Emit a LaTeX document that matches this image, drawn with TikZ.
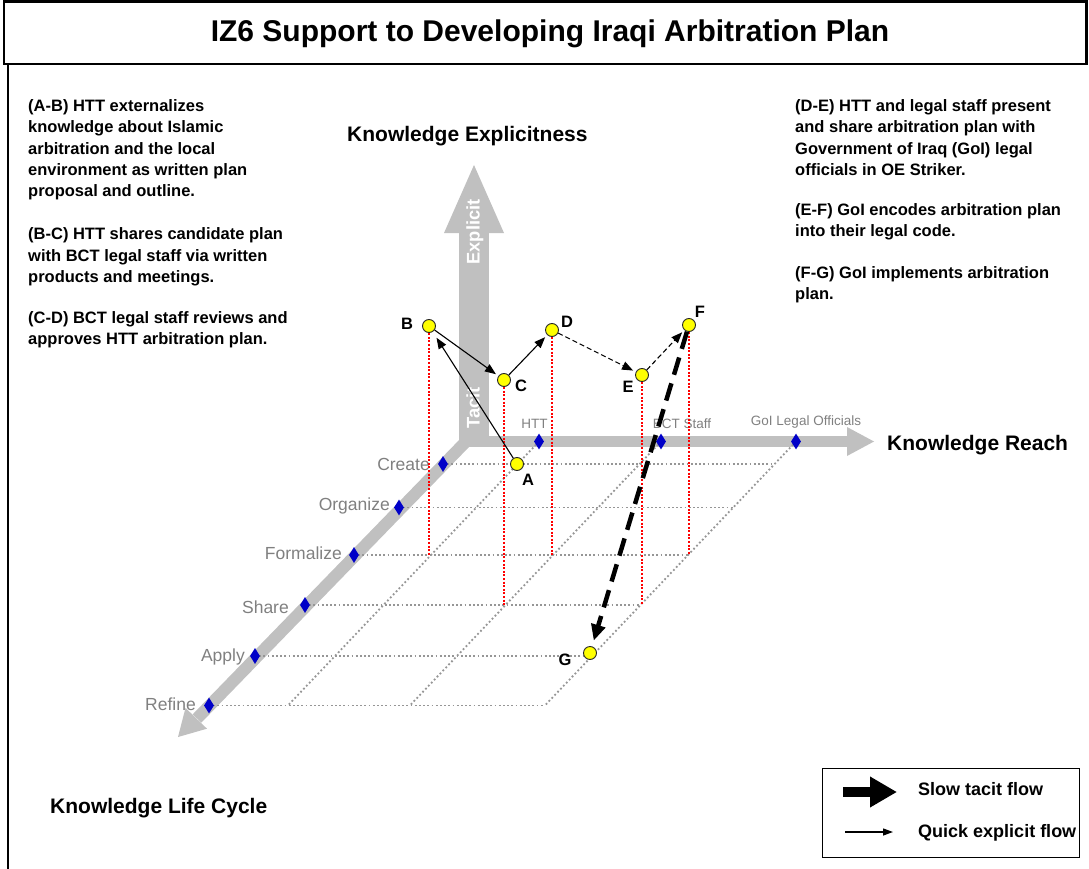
\documentclass[tikz,border=0pt]{standalone}
\usepackage{fontspec}
\setmainfont{Liberation Sans}
\usetikzlibrary{shapes.geometric,arrows.meta}
\definecolor{axisgray}{RGB}{192,192,192}
\definecolor{gridgray}{RGB}{150,150,150}
\definecolor{labgray}{RGB}{128,128,128}
\definecolor{dblue}{RGB}{0,0,200}
\definecolor{ptyellow}{RGB}{255,255,0}
\begin{document}
\begin{tikzpicture}[x=1pt,y=-1pt,
  frame/.style={line width=2.6pt},
  pnt/.style={circle, draw=black!85, fill=ptyellow, minimum size=13pt, inner sep=0pt, line width=0.9pt},
  dia/.style={diamond, fill=dblue, minimum width=10pt, minimum height=16pt, inner sep=0pt},
  gridln/.style={gridgray, line width=1.8pt, dash pattern=on 1.8pt off 2.4pt},
  drop/.style={red, line width=2.2pt, dash pattern=on 2pt off 1.6pt},
  qarrow/.style={-{Triangle[length=11pt,width=8.5pt]}, line width=1.1pt, shorten >=3pt},
  qdash/.style={qarrow, dash pattern=on 5pt off 3pt},
  slow/.style={-{Triangle[length=16pt,width=14pt]}, line width=4.5pt, dash pattern=on 18pt off 9pt},
  txt/.style={inner sep=0pt, font=\fontsize{16.5}{21.3}\selectfont\bfseries},
  axtitle/.style={inner sep=0pt, font=\fontsize{21}{24}\selectfont\bfseries},
  glab/.style={inner sep=0pt, text=labgray, font=\fontsize{17.5}{20}\selectfont},
  rlab/.style={inner sep=0pt, text=labgray, font=\fontsize{13.5}{16}\selectfont},
  plab/.style={inner sep=0pt, font=\fontsize{16.5}{18}\selectfont\bfseries},
  wlab/.style={inner sep=0pt, text=white, rotate=90, font=\fontsize{18.3}{20}\selectfont\bfseries},
  legtxt/.style={inner sep=0pt, font=\fontsize{18}{20}\selectfont\bfseries}
]
\useasboundingbox (0,0) rectangle (1089,869);

% frames
\draw[frame] (4,1.5) rectangle (1086.5,64);
\draw[frame] (8,64) -- (8,880);
\node[inner sep=0pt, anchor=base, font=\fontsize{30}{34}\selectfont\bfseries] (title) at (550,41.7) {IZ6 Support to Developing Iraqi Arbitration Plan};

% text blocks
\node[txt, anchor=base west] (tAB) at (28,111.7) {\vtop{\hbox{(A-B) HTT externalizes}\hbox{knowledge about Islamic}\hbox{arbitration and the local}\hbox{environment as written plan}\hbox{proposal and outline.}}};
\node[txt, anchor=base west] (tBC) at (28,240) {\vtop{\hbox{(B-C) HTT shares candidate plan}\hbox{with BCT legal staff via written}\hbox{products and meetings.}}};
\node[txt, anchor=base west] (tCD) at (28,323.3) {\vtop{\hbox{(C-D) BCT legal staff reviews and}\hbox{approves HTT arbitration plan.}}};
\node[txt, anchor=base west] (tDE) at (795,111.7) {\vtop{\hbox{(D-E) HTT and legal staff present}\hbox{and share arbitration plan with}\hbox{Government of Iraq (GoI) legal}\hbox{officials in OE Striker.}}};
\node[txt, anchor=base west] (tEF) at (795,215.7) {\vtop{\hbox{(E-F) GoI encodes arbitration plan}\hbox{into their legal code.}}};
\node[txt, anchor=base west] (tFG) at (795,278.3) {\vtop{\hbox{(F-G) GoI implements arbitration}\hbox{plan.}}};

% axis titles
\node[axtitle, anchor=base west] (kexp) at (347,141.7) {Knowledge Explicitness};
\node[axtitle, anchor=base west] (kreach) at (887,450.7) {Knowledge Reach};
\node[axtitle, anchor=base west] (klc) at (50,813) {Knowledge Life Cycle};

% gray axes
\fill[axisgray] (459,233) rectangle (489,447);
\fill[axisgray] (444,233) -- (474,165) -- (504,233) -- cycle;
\fill[axisgray] (459,436) rectangle (848,447);
\fill[axisgray] (847,427) -- (874,441.5) -- (847,456) -- cycle;
\draw[axisgray, line width=12pt] (466,441.5) -- (197,718.5);
\fill[axisgray] (178,737) -- (207,728.7) -- (185.5,707.9) -- cycle;
\node[wlab, anchor=base] (lexp) at (479.5,232) {Explicit};
\node[wlab, anchor=base] (ltac) at (479.5,408) {Tacit};

% grid
\draw[gridln] (443,464) -- (774.6,464);
\draw[gridln] (399,507.5) -- (733.2,507.5);
\draw[gridln] (354,555) -- (688.1,555);
\draw[gridln] (305,605) -- (640.5,605);
\draw[gridln] (255,656) -- (592,656);
\draw[gridln] (209,705.5) -- (544.9,705.5);
\draw[gridln] (539,441.5) -- (287.9,705.5);
\draw[gridln] (661,441.5) -- (409.9,705.5);
\draw[gridln] (796,441.5) -- (544.9,705.5);

% diamonds
\node[dia] (dCreate) at (443,464) {};
\node[dia] (dOrg) at (399,507.5) {};
\node[dia] (dForm) at (354,555) {};
\node[dia] (dShare) at (305,605) {};
\node[dia] (dApply) at (255,656) {};
\node[dia] (dRefine) at (209,705.5) {};
\node[dia] (dHTT) at (539,441.5) {};
\node[dia] (dBCT) at (661,441.5) {};
\node[dia] (dGoI) at (796,441.5) {};

% axis labels
\node[glab, anchor=base east] (lCreate) at (430,470.7) {Create};
\node[glab, anchor=base east] (lOrg) at (390,510) {Organize};
\node[glab, anchor=base east] (lForm) at (342,559) {Formalize};
\node[glab, anchor=base east] (lShare) at (289,613) {Share};
\node[glab, anchor=base east] (lApply) at (245,661) {Apply};
\node[glab, anchor=base east] (lRefine) at (196,710) {Refine};
\node[rlab, anchor=base] (lHTT) at (534.5,428) {HTT};
\node[rlab, anchor=base] (lBCT) at (682,428) {BCT Staff};
\node[rlab, anchor=base] (lGoI) at (806,425) {GoI Legal Officials};

% points (coordinates first for drop lines)
\coordinate (pB) at (429,326);
\coordinate (pC) at (504,380);
\coordinate (pD) at (552,330);
\coordinate (pE) at (642,375);
\coordinate (pF) at (689,325);
\coordinate (fB) at (429,555);
\coordinate (fC) at (504,605);
\coordinate (fD) at (552,555);
\coordinate (fE) at (642,605);
\coordinate (fF) at (689,555);
\draw[drop] (pB) -- (fB);
\draw[drop] (pC) -- (fC);
\draw[drop] (pD) -- (fD);
\draw[drop] (pE) -- (fE);
\draw[drop] (pF) -- (fF);

\node[pnt] (A) at (517,464) {};
\node[pnt] (B) at (pB) {};
\node[pnt] (C) at (pC) {};
\node[pnt] (D) at (pD) {};
\node[pnt] (E) at (pE) {};
\node[pnt] (F) at (pF) {};
\node[pnt] (G) at (590,653) {};

% flows
\draw[qarrow, shorten >=7pt] (A) -- (B);
\draw[qarrow] (B) -- (C);
\draw[qarrow] (C) -- (D);
\draw[qdash] (D) -- (E);
\draw[qdash] (E) -- (F);
\draw[slow, shorten >=6pt] (F) -- (G);

% point labels
\node[plab] (labA) at (528,480) {A};
\node[plab] (labB) at (407,324) {B};
\node[plab] (labC) at (521,386) {C};
\node[plab] (labD) at (567,322) {D};
\node[plab] (labE) at (628,387) {E};
\node[plab] (labF) at (700,312) {F};
\node[plab] (labG) at (565,660) {G};

% legend
\draw[line width=1pt] (822,768) rectangle (1079,857);
\coordinate (l1s) at (843,792);
\coordinate (l1e) at (897,792);
\coordinate (l2s) at (845,832);
\coordinate (l2e) at (893,832);
\draw[line width=10pt, -{Triangle[length=27pt,width=29pt]}] (l1s) -- (l1e);
\draw[line width=1.3pt, -{Triangle[length=10pt,width=7pt]}] (l2s) -- (l2e);
\node[legtxt, anchor=base west] (leg1) at (918,795) {Slow tacit flow};
\node[legtxt, anchor=base west] (leg2) at (918,837) {Quick explicit flow};
\end{tikzpicture}
\end{document}
